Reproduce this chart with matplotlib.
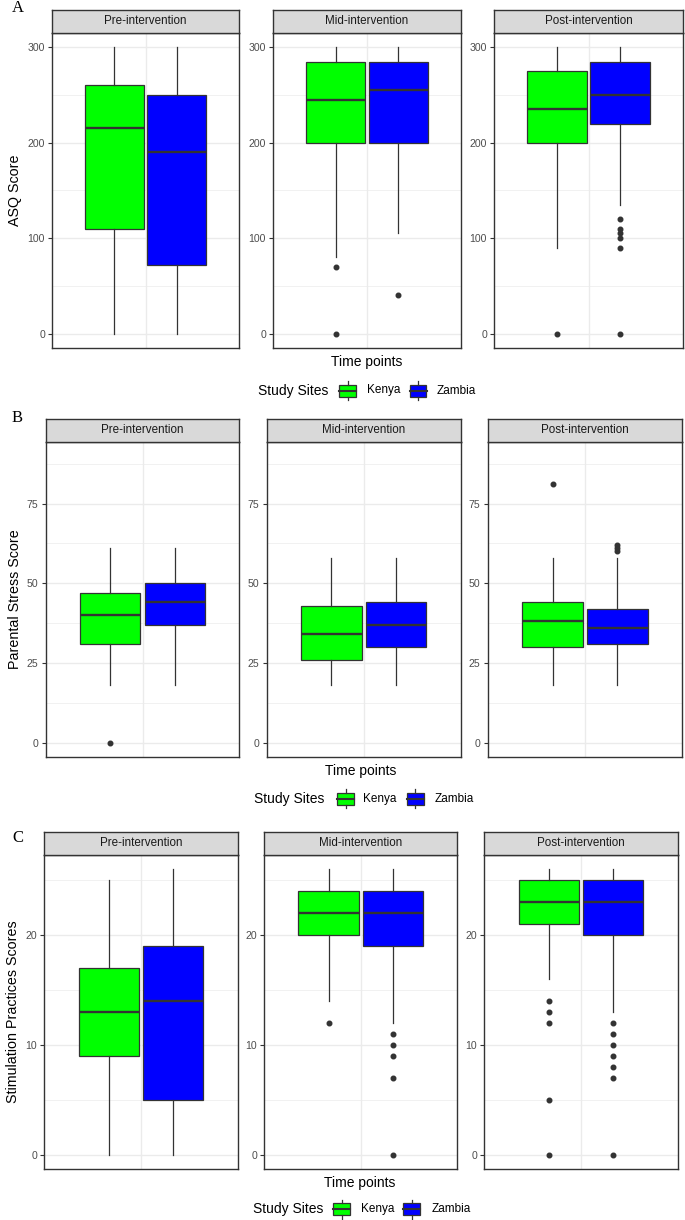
import matplotlib
matplotlib.use("Agg")
import matplotlib.pyplot as plt
from matplotlib.patches import Rectangle
from matplotlib.lines import Line2D

plt.rcParams['font.family'] = ['Liberation Sans', 'DejaVu Sans']

W, H = 685, 1220
fig = plt.figure(figsize=(W / 100, H / 100), dpi=100)

# ---------------- data ----------------
facets = ["Pre-intervention", "Mid-intervention", "Post-intervention"]
sites = ["Kenya", "Zambia"]
site_colors = ["#00FF00", "#0000FF"]

# Panel A: ASQ score  (rows: facet, cols: Kenya, Zambia)
asq_whislo = [[0, 0], [80, 105], [90, 135]]
asq_q1 = [[110, 72], [200, 200], [200, 220]]
asq_med = [[215, 190], [245, 255], [235, 250]]
asq_q3 = [[260, 250], [285, 285], [275, 285]]
asq_whishi = [[300, 300], [300, 300], [300, 300]]
asq_fliers = [[[], []], [[70, 0], [40]], [[0], [120, 110, 105, 100, 90, 0]]]
asq_yticks = [0, 100, 200, 300]
asq_minor = [50, 150, 250]

# Panel B: Parental stress score
pss_whislo = [[18, 18], [18, 18], [18, 18]]
pss_q1 = [[31, 37], [26, 30], [30, 31]]
pss_med = [[40, 44], [34, 37], [38, 36]]
pss_q3 = [[47, 50], [43, 44], [44, 42]]
pss_whishi = [[61, 61], [58, 58], [58, 58]]
pss_fliers = [[[0], []], [[], []], [[81], [62, 61, 60]]]
pss_yticks = [0, 25, 50, 75]
pss_minor = [12.5, 37.5, 62.5, 87.5]

# Panel C: Stimulation practices scores
sps_whislo = [[0, 0], [14, 12], [16, 13]]
sps_q1 = [[9, 5], [20, 19], [21, 20]]
sps_med = [[13, 14], [22, 22], [23, 23]]
sps_q3 = [[17, 19], [24, 24], [25, 25]]
sps_whishi = [[25, 26], [26, 26], [26, 26]]
sps_fliers = [[[], []], [[12], [11, 10, 9, 7, 0]], [[14, 13, 12, 5, 0], [12, 11, 10, 9, 8, 7, 0]]]
sps_yticks = [0, 10, 20]
sps_minor = [5, 15, 25]

# ---------------- helpers ----------------
def fx(x):
    return x / W

def fy(y):
    return 1 - y / H

EDGE = "#333333"


def draw_panel(stats_arrays, yticks, minor, ylim, facet_x, strip_top, strip_bot,
               plot_bot, ylabel, ylabel_xy, letter, letter_xy, tp_xy, leg):
    whislo, q1, med, q3, whishi, fliers = stats_arrays
    for fi, (x0, x1) in enumerate(facet_x):
        ax = fig.add_axes([fx(x0), fy(plot_bot), (x1 - x0) / W, (plot_bot - strip_bot) / H])
        ax.set_xlim(-0.6, 0.6)
        ax.set_ylim(*ylim)
        stats = []
        for si in range(2):
            stats.append(dict(med=med[fi][si], q1=q1[fi][si], q3=q3[fi][si],
                              whislo=whislo[fi][si], whishi=whishi[fi][si],
                              fliers=fliers[fi][si]))
        bp = ax.bxp(stats, positions=[-0.2, 0.2], widths=0.375, patch_artist=True,
                    showcaps=False,
                    boxprops=dict(edgecolor=EDGE, linewidth=0.9),
                    medianprops=dict(color=EDGE, linewidth=1.7),
                    whiskerprops=dict(color=EDGE, linewidth=0.9),
                    flierprops=dict(marker='o', markersize=3.3, markerfacecolor=EDGE,
                                    markeredgecolor=EDGE, linestyle='none'),
                    zorder=3)
        for patch, col in zip(bp['boxes'], site_colors):
            patch.set_facecolor(col)
        ax.set_yticks(yticks)
        ax.set_yticks(minor, minor=True)
        ax.set_xticks([0])
        ax.grid(True, which='major', color='#EBEBEB', linewidth=1.0, zorder=0)
        ax.grid(True, which='minor', axis='y', color='#EBEBEB', linewidth=0.5, zorder=0)
        ax.set_axisbelow(True)
        ax.tick_params(axis='x', length=0, labelbottom=False)
        ax.tick_params(axis='y', which='major', length=2.6, width=0.8, color=EDGE,
                       labelsize=7.6, labelcolor='#4D4D4D', pad=2.5)
        ax.tick_params(axis='y', which='minor', length=0)
        for sp in ax.spines.values():
            sp.set_color(EDGE)
            sp.set_linewidth(1.0)
        # strip
        sax = fig.add_axes([fx(x0), fy(strip_bot), (x1 - x0) / W, (strip_bot - strip_top) / H])
        sax.set_facecolor('#D9D9D9')
        sax.set_xticks([])
        sax.set_yticks([])
        for sp in sax.spines.values():
            sp.set_color(EDGE)
            sp.set_linewidth(1.0)
        sax.text(0.5, 0.5, facets[fi], ha='center', va='center', fontsize=8.4,
                 color='#1A1A1A', transform=sax.transAxes)

    fig.text(fx(ylabel_xy[0]), fy(ylabel_xy[1]), ylabel, rotation=90, ha='center',
             va='center', fontsize=10.3, color='black')
    fig.text(fx(letter_xy[0]), fy(letter_xy[1]), letter, ha='center', va='center',
             fontsize=12, family=['Liberation Serif', 'DejaVu Serif'], color='black')
    fig.text(fx(tp_xy[0]), fy(tp_xy[1]), "Time points", ha='center', va='center',
             fontsize=10, color='black')
    # legend
    ss_x, y_c, key_x, text_x = leg
    fig.text(fx(ss_x), fy(y_c), "Study Sites", ha='left', va='center', fontsize=10,
             color='black')
    for kx, tx, col, name in zip(key_x, text_x, site_colors, sites):
        kw, kh = 17, 12
        rect = Rectangle((fx(kx), fy(y_c + kh / 2)), kw / W, kh / H, transform=fig.transFigure,
                         facecolor=col, edgecolor=EDGE, linewidth=0.9)
        fig.add_artist(rect)
        fig.add_artist(Line2D([fx(kx), fx(kx + kw)], [fy(y_c), fy(y_c)],
                              transform=fig.transFigure, color=EDGE, linewidth=1.5))
        fig.add_artist(Line2D([fx(kx + kw / 2)] * 2, [fy(y_c - kh / 2), fy(y_c - kh / 2 - 3.5)],
                              transform=fig.transFigure, color=EDGE, linewidth=0.9))
        fig.add_artist(Line2D([fx(kx + kw / 2)] * 2, [fy(y_c + kh / 2), fy(y_c + kh / 2 + 3.5)],
                              transform=fig.transFigure, color=EDGE, linewidth=0.9))
        fig.text(fx(tx), fy(y_c), name, ha='left', va='center', fontsize=8.5, color='black')


draw_panel((asq_whislo, asq_q1, asq_med, asq_q3, asq_whishi, asq_fliers),
           asq_yticks, asq_minor, (-15, 315),
           [(52, 239), (273, 461), (494, 683)], 9.5, 33, 348,
           "ASQ Score", (15.5, 190), "A", (18, 8), (366.5, 362),
           (257.5, 390.5, [339, 409.5], [366.5, 437]))

draw_panel((pss_whislo, pss_q1, pss_med, pss_q3, pss_whishi, pss_fliers),
           pss_yticks, pss_minor, (-4.5, 94.3),
           [(45.7, 239.3), (266.7, 460.7), (487.7, 682.3)], 418.5, 442, 757,
           "Parental Stress Score", (15, 599), "B", (17.5, 418), (361, 771),
           (254, 798.7, [337, 406.7], [363.3, 434.3]))

draw_panel((sps_whislo, sps_q1, sps_med, sps_q3, sps_whishi, sps_fliers),
           sps_yticks, sps_minor, (-1.3, 27.3),
           [(44.3, 237.7), (264.3, 457.3), (484.3, 677.7)], 832, 855, 1169,
           "Stimulation Practices Scores", (13.3, 1012), "C", (18, 838.5), (360, 1183.3),
           (252.7, 1209.3, [333, 403.3], [361, 431.7]))

fig.savefig("out.png", dpi=100)
